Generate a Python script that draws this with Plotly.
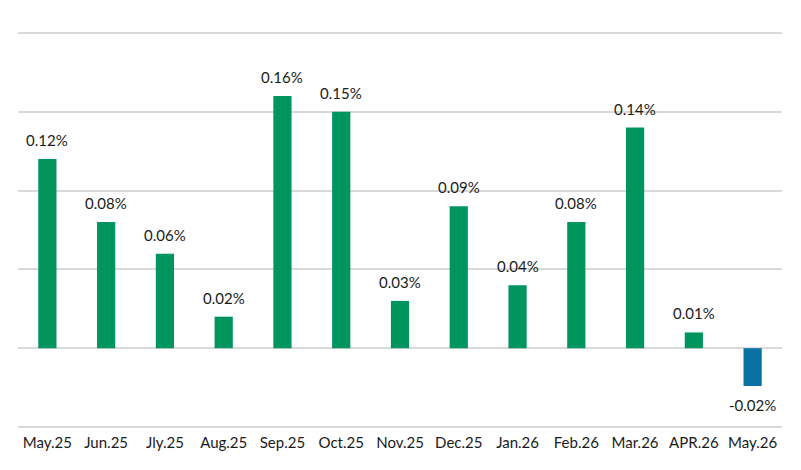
import plotly.graph_objects as go

months = ["May.25", "Jun.25", "Jly.25", "Aug.25", "Sep.25", "Oct.25", "Nov.25",
          "Dec.25", "Jan.26", "Feb.26", "Mar.26", "APR.26", "May.26"]
values = [0.12, 0.08, 0.06, 0.02, 0.16, 0.15, 0.03, 0.09, 0.04, 0.08, 0.14, 0.01, -0.024]
labels = ["0.12%", "0.08%", "0.06%", "0.02%", "0.16%", "0.15%", "0.03%",
          "0.09%", "0.04%", "0.08%", "0.14%", "0.01%", "-0.02%"]

GREEN = "#00955f"
BLUE = "#0a72a3"
colors = [GREEN if v >= 0 else BLUE for v in values]

FONT = "Lato"
fig = go.Figure(go.Bar(
    x=months, y=values,
    marker=dict(color=colors, line=dict(width=0)),
    width=0.31, cliponaxis=False,
))

for m, v, t in zip(months, values, labels):
    fig.add_annotation(
        x=m, y=v, text=t, showarrow=False,
        yanchor="bottom" if v >= 0 else "top",
        yshift=8 if v >= 0 else -8,
        font=dict(family=FONT, size=15, color="#1a1a1a"),
    )

fig.update_layout(
    width=801, height=470,
    margin=dict(l=18, r=19, t=31, b=41),
    plot_bgcolor="white", paper_bgcolor="white",
    showlegend=False,
    font=dict(family=FONT, size=15, color="#1a1a1a"),
)
fig.update_yaxes(range=[-0.05127, 0.20127], dtick=0.05, tick0=0, showticklabels=False,
                 showgrid=True, gridcolor="#d9d9d9", gridwidth=1.5,
                 zeroline=True, zerolinecolor="#d9d9d9", zerolinewidth=1.5,
                 showline=False)
fig.update_xaxes(showgrid=False, showline=False, ticks="", ticklabelstandoff=3,
                 tickfont=dict(family=FONT, size=15, color="#1a1a1a"))

fig.write_html("out.html")
